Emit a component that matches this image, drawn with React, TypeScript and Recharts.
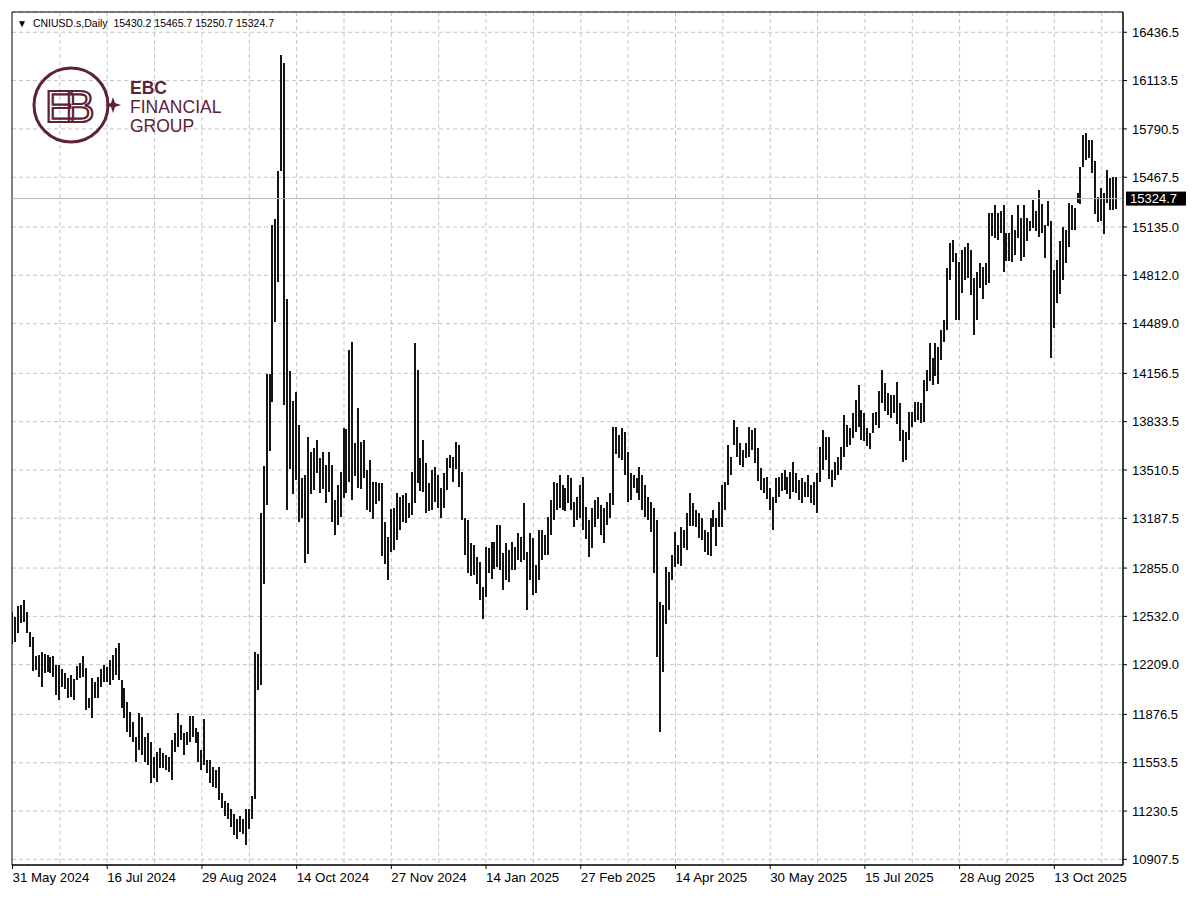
import React from 'react';
import {
  ComposedChart, Bar, XAxis, YAxis, CartesianGrid, ReferenceLine, ReferenceArea,
} from 'recharts';

const highs: number[] = [
  12563,12528,12601,12608,12641,12561,12428,12394,12267,12274,
  12294,12280,12274,12260,12267,12207,12207,12180,12153,12120,
  12140,12113,12200,12220,12267,12187,11986,12120,12093,12126,
  12180,12207,12193,12240,12274,12320,12354,12107,12053,11959,
  11892,11826,11725,11886,11859,11725,11752,11692,11592,11625,
  11652,11618,11605,11592,11705,11752,11886,11806,11752,11759,
  11866,11866,11786,11759,11639,11849,11574,11574,11522,11505,
  11522,11350,11299,11282,11247,11213,11178,11196,11178,11247,
  11247,11333,12296,12279,13225,13534,14153,14153,15150,15185,
  15512,16285,16234,14652,14175,13970,14035,13811,13455,13477,
  13733,13633,13655,13711,13589,13633,13544,13633,13544,13310,
  13410,13499,13789,13782,14313,14369,13689,13923,13700,13711,
  13511,13578,13433,13433,13422,13422,13165,13065,13248,13254,
  13354,13332,13343,13354,13287,13499,14357,14179,13589,13711,
  13555,13422,13511,13533,13477,13388,13488,13589,13611,13600,
  13700,13678,13499,13188,13176,13021,13010,12931,12898,12730,
  12998,12987,13032,13032,13143,13143,12954,13021,12976,13032,
  12998,13087,13065,13287,12965,13087,13054,12876,13110,13110,
  13076,13199,13310,13433,13422,13477,13410,13388,13477,13455,
  13299,13332,13410,13466,13265,13176,13254,13310,13332,13277,
  13254,13299,13354,13800,13800,13744,13789,13766,13633,13488,
  13477,13455,13533,13477,13410,13332,13299,13254,13176,12630,
  12608,12865,12831,12942,13099,13010,13132,13110,13221,13354,
  13287,13243,13221,13188,13110,13099,13188,13243,13188,13299,
  13410,13433,13678,13600,13845,13800,13689,13645,13689,13800,
  13778,13789,13655,13522,13455,13466,13388,13332,13455,13466,
  13488,13511,13466,13499,13566,13488,13444,13455,13433,13477,
  13410,13433,13488,13667,13778,13733,13733,13511,13566,13600,
  13667,13878,13811,13789,13889,13979,14079,13912,13889,13789,
  13755,13889,13900,14036,14179,14090,14023,14012,14012,14101,
  13956,13778,13766,13900,13900,13967,13967,13956,14113,14179,
  14357,14257,14357,14335,14447,14514,14859,15026,15049,14959,
  14900,14982,15004,15026,14982,14792,14837,14893,14870,14893,
  15228,15228,15283,15228,15239,15283,15093,15093,15216,15116,
  15283,15194,15283,15194,15172,15317,15239,15383,15290,15150,
  15310,15172,14848,14915,15038,15138,15116,15294,15283,15260,
  15360,15539,15750,15762,15717,15717,15573,15338,15394,15360,
  15517,15461,15472,15465.7,
];

const lows: number[] = [
  12352,12359,12421,12488,12494,12421,12327,12166,12173,12126,
  12060,12153,12160,12153,12126,12006,11973,12060,12046,11986,
  11993,11973,12107,12120,12126,11906,11919,11853,11986,11986,
  12060,12093,12093,12073,12107,12140,12107,11919,11853,11759,
  11725,11692,11558,11639,11605,11558,11538,11418,11451,11425,
  11518,11518,11505,11491,11438,11625,11659,11705,11605,11672,
  11692,11725,11685,11558,11505,11540,11488,11419,11385,11385,
  11299,11247,11196,11178,11127,11075,11041,11092,11075,11006,
  11110,11178,11316,12038,12073,12743,13276,13637,13964,14497,
  14772,15512,13947,13242,13520,13350,13445,13165,13188,12886,
  12953,13355,13377,13488,13355,13388,13288,13366,13165,13076,
  13143,13198,13321,13355,13433,13310,13466,13388,13388,13455,
  13243,13232,13188,13288,13299,12931,12886,12775,12960,12976,
  13043,13110,13165,13154,13188,13210,13288,13422,13366,13366,
  13221,13232,13243,13299,13254,13188,13254,13377,13522,13433,
  13522,13399,13176,12942,12820,12798,12809,12753,12641,12519,
  12664,12820,12787,12854,12865,12842,12708,12775,12764,12842,
  12842,12909,12898,12909,12574,12775,12675,12686,12775,12909,
  12942,12942,13076,13176,13243,13254,13243,13232,13288,13243,
  13132,13176,13188,13110,13054,12931,12987,13132,13188,13076,
  13021,13143,13188,13277,13622,13589,13578,13477,13299,13310,
  13388,13354,13310,13243,13199,13176,13099,12820,12262,11761,
  12162,12487,12574,12775,12865,12886,12870,12987,12976,13132,
  13132,13132,13054,13043,12965,12942,12931,13132,12998,13132,
  13132,13243,13410,13477,13678,13600,13544,13533,13589,13600,
  13645,13555,13433,13377,13355,13321,13243,13110,13288,13332,
  13366,13377,13355,13321,13366,13355,13310,13288,13332,13332,
  13288,13277,13221,13433,13511,13578,13455,13399,13444,13477,
  13511,13600,13667,13678,13722,13766,13800,13711,13700,13667,
  13645,13755,13811,13789,13956,13900,13878,13856,13889,13822,
  13700,13566,13578,13711,13800,13833,13845,13822,13833,14036,
  14101,14079,14135,14090,14246,14369,14447,14781,14904,14514,
  14510,14692,14781,14792,14681,14413,14514,14726,14659,14748,
  14759,15071,15060,15049,15093,14837,14904,14904,14904,14948,
  15060,14904,14937,15038,15105,15127,15105,15071,15095,14930,
  15140,14257,14458,14626,14681,14781,14893,15000,15116,15116,
  15294,15294,15539,15584,15595,15494,15216,15172,15172,15083,
  15294,15250,15250,15250.7,
];

const dateLabels: string[] = [
  '31 May 2024', '16 Jul 2024', '29 Aug 2024', '14 Oct 2024', '27 Nov 2024', '14 Jan 2025',
  '27 Feb 2025', '14 Apr 2025', '30 May 2025', '15 Jul 2025', '28 Aug 2025', '13 Oct 2025',
];
const BARS_PER_LABEL = 32;
const BARS_PER_GRID = 16;

const priceTicks: number[] = [
  16436.5, 16113.5, 15790.5, 15467.5, 15135.0, 14812.0, 14489.0, 14156.5, 13833.5,
  13510.5, 13187.5, 12855.0, 12532.0, 12209.0, 11876.5, 11553.5, 11230.5, 10907.5,
];

const lastPrice = 15324.7;
const headerText = 'CNIUSD.s,Daily  15430.2 15465.7 15250.7 15324.7';

const data = highs.map((h, i) => ({ i, range: [lows[i], h] }));
const labelTicks = dateLabels.map((_, k) => k * BARS_PER_LABEL);
const gridX: number[] = [];
for (let k = BARS_PER_GRID; k < highs.length; k += BARS_PER_GRID) gridX.push(k);

const X_DOMAIN: [number, number] = [-0.17, 375.2];
const Y_DOMAIN: [number, number] = [10870, 16572];

const FONT = '"Liberation Sans", Arial, sans-serif';
const MAROON = '#5e2232';

const BarShape = (props: any) => {
  const { x, y, height, fill } = props;
  if (x == null || y == null) return null;
  const top = height < 0 ? y + height : y;
  return (
    <rect x={Math.round(x)} y={Math.round(top)} width={2} height={Math.max(1, Math.round(Math.abs(height)))}
      fill={fill} />
  );
};

const PriceLabel = (props: any) => {
  const vb = props.viewBox || {};
  const x = vb.x + vb.width + 3;
  const y = vb.y;
  return (
    <g>
      <rect x={x} y={y - 7} width={60} height={14} fill="#000" />
      <text x={x + 4} y={y + 4.5} fill="#fff" fontSize={13} fontFamily={FONT}>{lastPrice.toFixed(1)}</text>
    </g>
  );
};

const Logo = () => (
  <svg width={210} height={90} style={{ position: 'absolute', left: 30, top: 62 }}>
    <circle cx={41} cy={43} r={37} fill="none" stroke={MAROON} strokeWidth={3} />
    <text x={15} y={60} fontSize={44} fontFamily={FONT} fill="none" stroke={MAROON} strokeWidth={2.2}
      letterSpacing={-9}>EB</text>
    <path d="M83 35 L85 41 L91 43 L85 45 L83 51 L81 45 L75 43 L81 41 Z" fill={MAROON} />
    <text x={100} y={32} fontSize={17.5} fontFamily={FONT} fill={MAROON} fontWeight={700}>EBC</text>
    <text x={100} y={51} fontSize={17.5} fontFamily={FONT} fill={MAROON}>FINANCIAL</text>
    <text x={100} y={70} fontSize={17.5} fontFamily={FONT} fill={MAROON}>GROUP</text>
  </svg>
);

export default function App() {
  return (
    <div style={{ position: 'absolute', left: 0, top: 0, width: 1200, height: 903, background: '#fff', overflow: 'hidden' }}>
      <ComposedChart width={1200} height={903} data={data}
        margin={{ top: 12, right: 0, bottom: 0, left: 12 }}>
        <CartesianGrid stroke="#c4c4c4" strokeDasharray="4 3" verticalValues={gridX} />
        <XAxis dataKey="i" type="number" scale="linear" domain={X_DOMAIN} allowDataOverflow
          ticks={labelTicks} interval={0} height={38}
          tickFormatter={(v: number) => dateLabels[Math.round(v / BARS_PER_LABEL)] ?? ''}
          tick={{ fill: '#000', fontSize: 13.3, fontFamily: FONT, textAnchor: 'start' }}
          tickSize={4} tickMargin={4} stroke="#000" />
        <YAxis orientation="right" type="number" domain={Y_DOMAIN} allowDataOverflow
          ticks={priceTicks} interval={0} width={77}
          tickFormatter={(v: number) => v.toFixed(1)}
          tick={{ fill: '#000', fontSize: 13, fontFamily: FONT }}
          tickSize={4} tickMargin={5} stroke="#000" />
        <ReferenceLine y={lastPrice} stroke="#b8b8b8" strokeWidth={1} label={<PriceLabel />} />
        <Bar dataKey="range" fill="#151515" barSize={2} isAnimationActive={false} shape={<BarShape />} />
        <ReferenceArea x1={X_DOMAIN[0]} x2={X_DOMAIN[1]} y1={Y_DOMAIN[0]} y2={Y_DOMAIN[1]}
          fill="none" stroke="#000" strokeWidth={1} ifOverflow="visible" />
      </ComposedChart>
      <div style={{ position: 'absolute', left: 17, top: 16, fontFamily: FONT, fontSize: 10.5, color: '#000', whiteSpace: 'pre', lineHeight: '14px' }}>
        <span style={{ fontSize: 10, marginRight: 6 }}>▼</span>{headerText}
      </div>
      <Logo />
    </div>
  );
}
